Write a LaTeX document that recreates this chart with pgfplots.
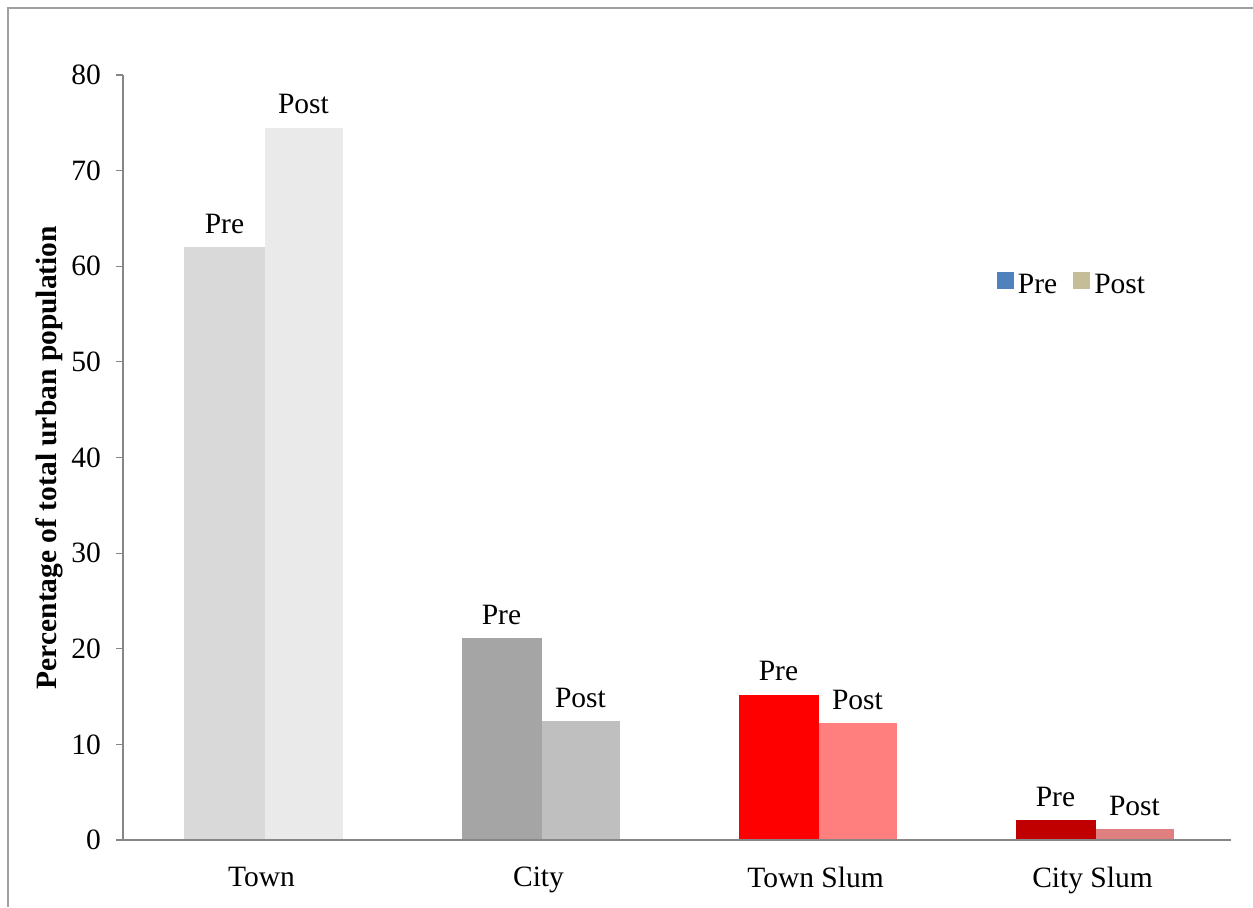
\documentclass[border=0pt]{standalone}
\usepackage{pgfplots}
\pgfplotsset{compat=1.18}
\usepackage{fontspec}
\setmainfont{Liberation Serif}
\definecolor{axgray}{HTML}{868686}
\definecolor{framegray}{HTML}{A0A0A0}
\definecolor{tpre}{HTML}{D9D9D9}
\definecolor{tpost}{HTML}{EAEAEA}
\definecolor{cpre}{HTML}{A5A5A5}
\definecolor{cpost}{HTML}{BFBFBF}
\definecolor{tspre}{HTML}{FF0000}
\definecolor{tspost}{HTML}{FF7F7F}
\definecolor{cspre}{HTML}{C00000}
\definecolor{cspost}{HTML}{DF7F7F}
\definecolor{legpre}{HTML}{4F81BD}
\definecolor{legpost}{HTML}{C4BD97}
\newcommand{\chartfont}{\fontsize{14.75pt}{17pt}\selectfont}
\begin{document}
\begin{tikzpicture}
\useasboundingbox (0,0) rectangle (626.5pt,453.5pt);
\draw[framegray, line width=0.8pt] (4pt,0) -- (4pt,449.5pt) -- (626.5pt,449.5pt);
\begin{axis}[
  at={(61.5pt,33.5pt)}, anchor=south west,
  scale only axis, width=554pt, height=382.5pt,
  xmin=-0.5, xmax=3.5, ymin=0, ymax=80,
  axis lines=left, axis line style={axgray, line width=0.6pt, -},
  axis on top,
  ybar, clip=false,
  xtick={0,1,2,3},
  xticklabels={Town,City,Town Slum,City Slum},
  xtick style={draw=none},
  extra x ticks={-0.5,0.5,1.5,2.5,3.5},
  extra x tick labels={},
  extra x tick style={tick style={axgray, line width=0.6pt}, major tick length=4pt},
  ytick={0,10,...,80},
  ytick style={axgray, line width=0.6pt},
  major tick length=3.5pt,
  tick align=outside,
  tick label style={font=\chartfont},
  /pgf/number format/assume math mode=true,
  xticklabel style={yshift=-6.5pt},
  yticklabel style={xshift=-4pt},
  ylabel={\textbf{Percentage of total urban population}},
  every axis y label/.style={at={(rel axis cs:0,0.5)}, xshift=-37pt, rotate=90, anchor=center, font=\chartfont},
  legend style={at={(rel axis cs:0.783,0.725)}, anchor=west, draw=none, fill=none, legend columns=2, font=\chartfont,
    /tikz/every even column/.append style={column sep=6pt}},
  legend image code/.code={\fill[#1, draw=none] (-1.5pt,-2pt) rectangle (7pt,6.5pt);},
  every node near coord/.append style={font=\chartfont, anchor=south, inner sep=0pt, yshift=6.5pt, color=black},
]
\addlegendimage{fill=legpre, draw=none}
\addlegendentry{Pre}
\addlegendimage{fill=legpost, draw=none}
\addlegendentry{Post}
% Pre bars
\addplot[forget plot, draw=none, fill=tpre, bar width=40pt, bar shift=-18.5pt, nodes near coords={Pre}] coordinates {(0,62.0)};
\addplot[forget plot, draw=none, fill=cpre, bar width=40pt, bar shift=-18.5pt, nodes near coords={Pre}] coordinates {(1,21.1)};
\addplot[forget plot, draw=none, fill=tspre, bar width=40pt, bar shift=-18.5pt, nodes near coords={Pre}] coordinates {(2,15.2)};
\addplot[forget plot, draw=none, fill=cspre, bar width=40pt, bar shift=-18.5pt, nodes near coords={Pre}] coordinates {(3,2.1)};
% Post bars
\addplot[forget plot, draw=none, fill=tpost, bar width=39pt, bar shift=21pt, nodes near coords={Post}] coordinates {(0,74.5)};
\addplot[forget plot, draw=none, fill=cpost, bar width=39pt, bar shift=21pt, nodes near coords={Post}] coordinates {(1,12.4)};
\addplot[forget plot, draw=none, fill=tspost, bar width=39pt, bar shift=21pt, nodes near coords={Post}] coordinates {(2,12.2)};
\addplot[forget plot, draw=none, fill=cspost, bar width=39pt, bar shift=21pt, nodes near coords={Post}] coordinates {(3,1.1)};
\end{axis}
\end{tikzpicture}
\end{document}
